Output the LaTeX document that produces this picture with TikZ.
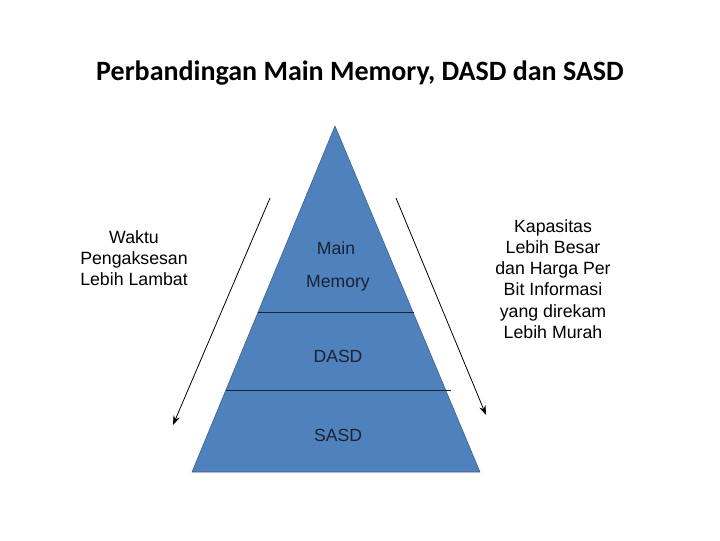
\documentclass[tikz,border=0pt]{standalone}
\usepackage{fontspec}
\setmainfont{Liberation Sans}
\newfontfamily\titlefont{Carlito}
\usepackage{xcolor}
\usetikzlibrary{positioning, arrows.meta}

\definecolor{pyrblue}{HTML}{4F81BD}
\definecolor{pyredge}{HTML}{385D8A}
\definecolor{tiernavy}{HTML}{1A2233}

\begin{document}
\begin{tikzpicture}[
    x=0.75pt, y=-0.75pt,
    title/.style={font=\titlefont\bfseries\fontsize{21}{25}\selectfont, inner sep=0pt},
    label/.style={align=center, font=\fontsize{13.3}{15.9}\selectfont, inner sep=0pt},
    tier/.style={font=\fontsize{13.2}{15}\selectfont, text=tiernavy, inner sep=0pt},
    divider/.style={draw=tiernavy, thin},
    arrow/.style={-{Stealth[length=7pt, width=5pt]}, semithick, draw=black}
]
    \useasboundingbox (0,0) rectangle (720,540);

    \node [title] (title) at (360,73) {Perbandingan Main Memory, DASD dan SASD};

    % pyramid
    \coordinate (apex) at (335,126);
    \coordinate (baseL) at (192,472);
    \coordinate (baseR) at (480,472);
    \fill [pyrblue] (apex) -- (baseR) -- (baseL) -- cycle;
    \draw [pyredge, thin] (apex) -- (baseR) -- (baseL) -- cycle;

    \coordinate (divAL) at (258,312);
    \coordinate (divAR) at (414,312);
    \coordinate (divBL) at (226,390);
    \coordinate (divBR) at (451,390);
    \draw [divider] (divAL) -- (divAR);
    \draw [divider] (divBL) -- (divBR);

    \node [tier] (main) at (336,248) {Main};
    \node [tier] (memory) at (338,283) {Memory};
    \node [tier] (dasd) at (338,356) {DASD};
    \node [tier] (sasd) at (338,435) {SASD};

    % side labels
    \node [label] (waktu) at (134,258) {Waktu\\Pengaksesan\\Lebih Lambat};
    \node [label] (kapasitas) at (553,279) {Kapasitas\\Lebih Besar\\dan Harga Per\\Bit Informasi\\yang direkam\\Lebih Murah};

    \coordinate (leftTop) at (270,198);
    \coordinate (leftEnd) at (173,425);
    \coordinate (rightTop) at (396,198);
    \coordinate (rightEnd) at (486,415);
    \draw [arrow] (leftTop) -- (leftEnd);
    \draw [arrow] (rightTop) -- (rightEnd);
\end{tikzpicture}
\end{document}
